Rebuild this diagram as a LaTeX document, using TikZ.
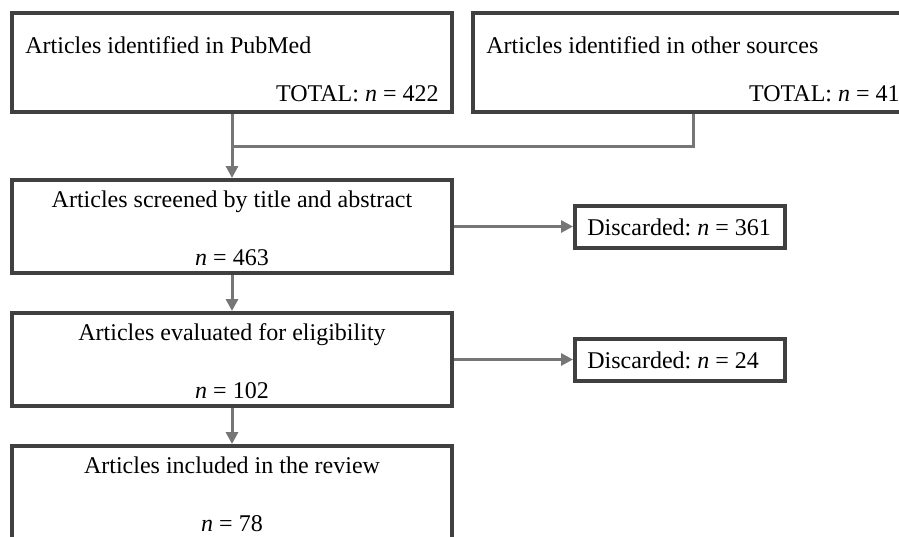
\documentclass[tikz,border=0pt]{standalone}
\usepackage{fontspec}
\setmainfont{Liberation Serif}
\usetikzlibrary{arrows.meta, positioning, calc}
\definecolor{framegray}{HTML}{404040}
\definecolor{flowgray}{HTML}{767676}
\newcommand{\nvar}{\textit{n}}
\frenchspacing

\begin{document}
\begin{tikzpicture}[
      x=0.5pt, y=-0.5pt,
      every node/.style={font=\fontsize{12pt}{14pt}\selectfont},
      source/.style={rectangle, draw=framegray, line width=2pt, minimum width=220pt, minimum height=49.5pt, inner sep=0pt},
      stage/.style={rectangle, draw=framegray, line width=2pt, minimum width=220pt, minimum height=46.5pt, inner sep=0pt},
      drop/.style={rectangle, draw=framegray, line width=2pt, minimum width=105pt, minimum height=21pt, inner sep=0pt},
      txt/.style={inner sep=0pt},
      flow/.style={-{Triangle[length=6pt, width=6pt]}, draw=flowgray, fill=flowgray, line width=1.5pt}
    ]
    \useasboundingbox (0,0) rectangle (899,536);
    \clip (0,0) rectangle (899,536);

    % boxes
    \node[source] (pub) at (232,62.5) {};
    \node[source, right=8.5pt of pub] (other) {};
    \node[stage, below=32pt of pub] (screen) {};
    \node[stage, below=18pt of screen] (elig) {};
    \node[stage, below=18pt of elig] (incl) {};
    \node[drop, right=59.5pt of screen] (drop1) {};
    \node[drop, right=59.5pt of elig] (drop2) {};

    % texts
    \node[txt, anchor=west] (pubT) at ($(pub.north west)+(15,34)$) {Articles identified in PubMed};
    \node[txt, anchor=east] (pubN) at ($(pub.south east)+(-15,-20)$) {TOTAL: \nvar{} = 422};
    \node[txt, anchor=west] (otherT) at ($(other.north west)+(15,34)$) {Articles identified in other sources};
    \node[txt, anchor=east] (otherN) at ($(other.south east)+(-15,-20)$) {TOTAL: \nvar{} = 41};
    \node[txt, anchor=base] (screenT) at ($(screen.north)+(0,29)$) {Articles screened by title and abstract};
    \node[txt, anchor=base] (screenN) at ($(screen.north)+(0,87)$) {\nvar{} = 463};
    \node[txt, anchor=base] (eligT) at ($(elig.north)+(0,29)$) {Articles evaluated for eligibility};
    \node[txt, anchor=base] (eligN) at ($(elig.north)+(0,87)$) {\nvar{} = 102};
    \node[txt, anchor=base] (inclT) at ($(incl.north)+(0,29)$) {Articles included in the review};
    \node[txt, anchor=base] (inclN) at ($(incl.north)+(0,87)$) {\nvar{} = 78};
    \node[txt, anchor=west] (drop1T) at ($(drop1.west)+(14,1)$) {Discarded: \nvar{} = 361};
    \node[txt, anchor=west] (drop2T) at ($(drop2.west)+(14,1)$) {Discarded: \nvar{} = 24};

    % connectors
    \coordinate (join) at ($(pub.south)+(0,32)$);
    \draw[draw=flowgray, line width=1.5pt] (other.south) |- (join);
    \draw[flow] (pub.south) -- (screen.north);
    \draw[flow] (screen.east) -- (screen.east -| drop1.west);
    \draw[flow] (screen.south) -- (elig.north);
    \draw[flow] (elig.east) -- (elig.east -| drop2.west);
    \draw[flow] (elig.south) -- (incl.north);
  \end{tikzpicture}
\end{document}
